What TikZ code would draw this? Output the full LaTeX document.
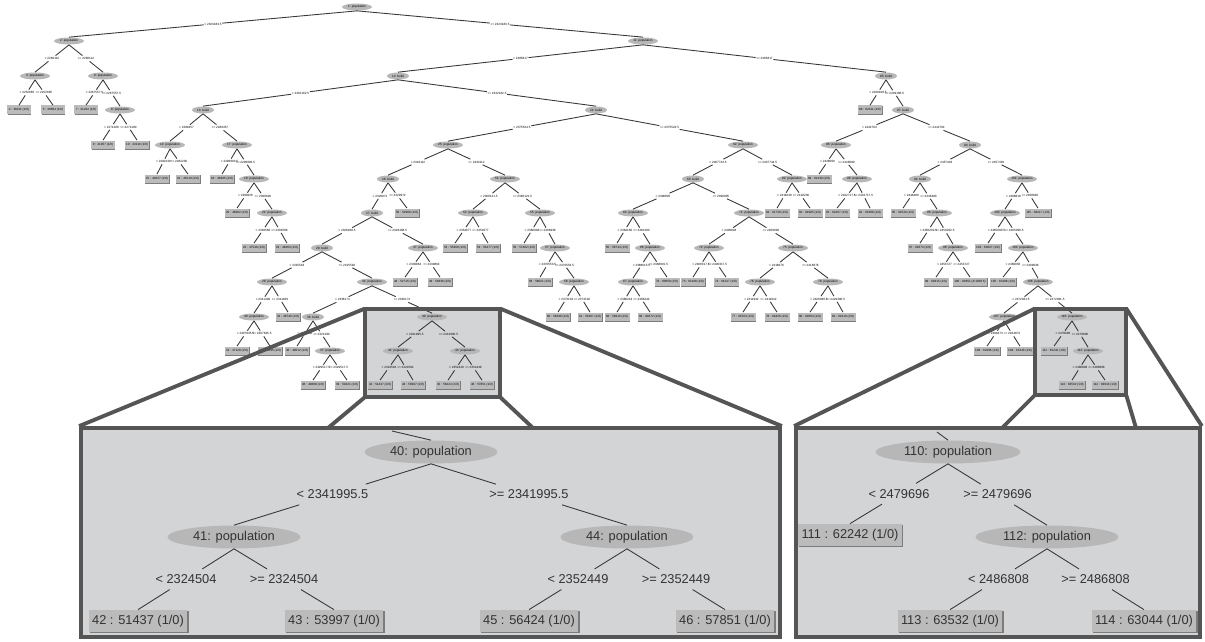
\documentclass[tikz,border=0pt]{standalone}
\usepackage{fontspec}
\setmainfont{Liberation Sans}
\usetikzlibrary{shapes.geometric,shadows}

\definecolor{nodegray}{HTML}{B7B7B7}
\definecolor{leafgray}{HTML}{BBBBBB}
\definecolor{shadowgray}{HTML}{7C7C7C}
\definecolor{boxgray}{HTML}{D3D4D6}
\definecolor{framegray}{HTML}{555555}
\definecolor{linegray}{HTML}{383838}
\definecolor{textgray}{HTML}{333333}

\newcommand{\treefont}{\fontsize{1.75}{2.1}\selectfont}
\newcommand{\insetfont}{\fontsize{7.3}{8.8}\selectfont}

% one branch: straight line parent -> child, broken by its condition
\newcommand{\bough}[4][cond]{%
  \path (#2.south) -- node[#1] (#2#3) {#4} (#3.north);
  \draw[branch] (#2.south) -- (#2#3) (#2#3) -- (#3.north);}
% both branches of a split
\newcommand{\branchpair}[5][cond]{%
  \bough[#1]{#2}{#3}{< #5}%
  \bough[#1]{#2}{#4}{>= #5}}

\tikzset{
  attr/.style={ellipse, fill=nodegray, inner sep=0pt, minimum width=0.6cm,
    minimum height=0.14cm, font=\treefont},
  attrshort/.style={attr, minimum width=0.44cm},
  leafbox/.style={rectangle, fill=leafgray, inner xsep=0.03cm, inner ysep=0pt,
    minimum height=0.18cm, font=\treefont,
    drop shadow={shadow xshift=0.35pt, shadow yshift=-0.35pt, fill=shadowgray, opacity=1}},
  cond/.style={inner xsep=0.2pt, inner ysep=0pt, minimum height=0.1cm, font=\treefont},
  branch/.style={draw=linegray, line width=0.5pt},
  bigattr/.style={ellipse, fill=nodegray, inner sep=0pt, minimum width=2.66cm,
    minimum height=0.46cm, font=\insetfont, text=textgray},
  bigleaf/.style={rectangle, fill=leafgray, inner xsep=2pt, inner ysep=0pt,
    minimum height=0.44cm, font=\insetfont, text=textgray,
    drop shadow={shadow xshift=0.8pt, shadow yshift=-0.8pt, fill=shadowgray, opacity=1}},
  bigcond/.style={inner xsep=0.5pt, inner ysep=0pt, minimum height=0.4cm,
    font=\insetfont, text=textgray},
  zoomfill/.style={fill=boxgray, inner sep=0pt},
  zoomframe/.style={draw=framegray, line width=2.2pt},
  insetbox/.style={fill=boxgray, draw=framegray, line width=2.2pt, inner sep=0pt},
  funnel/.style={draw=framegray, line width=2.2pt}
}

\begin{document}
\begin{tikzpicture}[x=0.02cm, y=-0.02cm]
\useasboundingbox (0,0) rectangle (1205,642);

% --- zoom windows (fill now, frame later) ---
\node[zoomfill, minimum width=2.7cm, minimum height=1.76cm] (zoomL) at (432.5,353) {};
\node[zoomfill, minimum width=1.82cm, minimum height=1.72cm] (zoomR) at (1080.5,352) {};

% --- full tree: depth 0-2 ---
\node[attr] (n1) at (357,7) {1: population};
\node[attr] (n2) at (69,41) {2: population};
\node[attr] (n11) at (643,41) {11: population};
\node[attr] (n3) at (35,76) {3: population};
\node[attr] (n6) at (103,76) {6: population};
\node[attrshort] (n12) at (398,76) {12: build};
\node[attrshort] (n85) at (886,76) {85: build};

% depth 3
\node[leafbox] (n4) at (19,110) {4 : 38211 (1/0)};
\node[leafbox] (n5) at (53,110) {5 : 39804 (1/0)};
\node[leafbox] (n7) at (86,110) {7 : 41262 (1/0)};
\node[attr] (n8) at (120,110) {8: population};
\node[attrshort] (n13) at (203,110) {13: build};
\node[attrshort] (n24) at (596,110) {24: build};
\node[leafbox] (n86) at (870,110) {86 : 62411 (1/0)};
\node[attrshort] (n87) at (903,110) {87: build};

% depth 4
\node[leafbox] (n9) at (103,145) {9 : 41957 (1/0)};
\node[leafbox] (n10) at (137,145) {10 : 43110 (1/0)};
\node[attr] (n14) at (170,145) {14: population};
\node[attr] (n17) at (237,145) {17: population};
\node[attr] (n25) at (448,145) {25: population};
\node[attr] (n62) at (743,145) {62: population};
\node[attr] (n88) at (836,145) {88: population};
\node[attrshort] (n93) at (970,145) {93: build};

% depth 5
\node[leafbox] (n15) at (157,179) {15 : 44027 (1/0)};
\node[leafbox] (n16) at (188,179) {16 : 45219 (1/0)};
\node[leafbox] (n18) at (222,179) {18 : 46385 (1/0)};
\node[attr] (n19) at (254,179) {19: population};
\node[attrshort] (n26) at (388,179) {26: build};
\node[attr] (n51) at (505,179) {51: population};
\node[attrshort] (n63) at (693,179) {63: build};
\node[attr] (n82) at (792,179) {82: population};
\node[leafbox] (n89) at (819,179) {89 : 62130 (1/0)};
\node[attr] (n90) at (857,179) {90: population};
\node[attrshort] (n94) at (920,179) {94: build};
\node[attr] (n101) at (1022,179) {101: population};

% depth 6
\node[leafbox] (n20) at (237,213) {20 : 46902 (1/0)};
\node[attr] (n21) at (272,213) {21: population};
\node[attrshort] (n27) at (372,213) {27: build};
\node[leafbox] (n50) at (407,213) {50 : 52960 (1/0)};
\node[attr] (n52) at (473,213) {52: population};
\node[attr] (n55) at (540,213) {55: population};
\node[attr] (n64) at (633,213) {64: population};
\node[attr] (n71) at (749,213) {71: population};
\node[leafbox] (n83) at (777,213) {83 : 61730 (1/0)};
\node[leafbox] (n84) at (810,213) {84 : 61985 (1/0)};
\node[leafbox] (n91) at (837,213) {91 : 62207 (1/0)};
\node[leafbox] (n92) at (870,213) {92 : 62388 (1/0)};
\node[leafbox] (n95) at (903,213) {95 : 62540 (1/0)};
\node[attr] (n96) at (937,213) {96: population};
\node[attr] (n102) at (1005,213) {102: population};
\node[leafbox] (n115) at (1038,213) {115 : 63217 (1/0)};

% depth 7
\node[leafbox] (n22) at (254,248) {22 : 47548 (1/0)};
\node[leafbox] (n23) at (287,248) {23 : 48463 (1/0)};
\node[attrshort] (n28) at (322,248) {28: build};
\node[attr] (n47) at (423,248) {47: population};
\node[leafbox] (n53) at (455,248) {53 : 55309 (1/0)};
\node[leafbox] (n54) at (488,248) {54 : 56177 (1/0)};
\node[leafbox] (n56) at (524,248) {56 : 57402 (1/0)};
\node[attr] (n57) at (555,248) {57: population};
\node[leafbox] (n65) at (617,248) {65 : 59744 (1/0)};
\node[attr] (n66) at (650,248) {66: population};
\node[attr] (n72) at (709,248) {72: population};
\node[attr] (n75) at (793,248) {75: population};
\node[leafbox] (n97) at (920,248) {97 : 62673 (1/0)};
\node[attr] (n98) at (953,248) {98: population};
\node[leafbox] (n103) at (988,248) {103 : 63027 (1/0)};
\node[attr] (n104) at (1023,248) {104: population};

% depth 8
\node[attr] (n29) at (272,282) {29: population};
\node[attr] (n34) at (372,282) {34: population};
\node[leafbox] (n48) at (405,282) {48 : 52715 (1/0)};
\node[leafbox] (n49) at (440,282) {49 : 54836 (1/0)};
\node[leafbox] (n58) at (540,282) {58 : 58021 (1/0)};
\node[attr] (n59) at (574,282) {59: population};
\node[attr] (n67) at (633,282) {67: population};
\node[leafbox] (n70) at (667,282) {70 : 60659 (1/0)};
\node[leafbox] (n73) at (693,282) {73 : 61108 (1/0)};
\node[leafbox] (n74) at (726,282) {74 : 61247 (1/0)};
\node[attr] (n76) at (760,282) {76: population};
\node[attr] (n79) at (828,282) {79: population};
\node[leafbox] (n99) at (936,282) {99 : 62815 (1/0)};
\node[leafbox] (n100) at (970,282) {100 : 62951 (2/1368.5)};
\node[leafbox] (n105) at (1003,282) {105 : 63108 (1/0)};
\node[attr] (n106) at (1038,282) {106: population};

% depth 9
\node[attr] (n30) at (254,317) {30: population};
\node[leafbox] (n33) at (288,317) {33 : 48746 (1/0)};
\node[attrshort] (n35) at (313,317) {35: build};
\node[attr] (n40) at (432,317) {40: population};
\node[leafbox] (n60) at (558,317) {60 : 58390 (1/0)};
\node[leafbox] (n61) at (590,317) {61 : 59187 (1/0)};
\node[leafbox] (n68) at (617,317) {68 : 59910 (1/0)};
\node[leafbox] (n69) at (650,317) {69 : 60372 (1/0)};
\node[leafbox] (n77) at (743,317) {77 : 61503 (1/0)};
\node[leafbox] (n78) at (777,317) {78 : 61826 (1/0)};
\node[leafbox] (n80) at (810,317) {80 : 62064 (1/0)};
\node[leafbox] (n81) at (843,317) {81 : 62319 (1/0)};
\node[attr] (n107) at (1004,317) {107: population};
\node[attr] (n110) at (1072,317) {110: population};

% depth 10
\node[leafbox] (n31) at (237,351) {31 : 47120 (1/0)};
\node[leafbox] (n32) at (270,351) {32 : 48095 (1/0)};
\node[leafbox] (n36) at (297,351) {36 : 49012 (1/0)};
\node[attr] (n37) at (330,351) {37: population};
\node[attr] (n41) at (398,351) {41: population};
\node[attr] (n44) at (465,351) {44: population};
\node[leafbox] (n108) at (987,351) {108 : 62996 (1/0)};
\node[leafbox] (n109) at (1020,351) {109 : 63140 (1/0)};
\node[leafbox] (n111) at (1054,351) {111 : 62242 (1/0)};
\node[attr] (n112) at (1088,351) {112: population};

% depth 11
\node[leafbox] (n38) at (313,385) {38 : 49688 (1/0)};
\node[leafbox] (n39) at (347,385) {39 : 50421 (1/0)};
\node[leafbox] (n42) at (380,385) {42 : 51437 (1/0)};
\node[leafbox] (n43) at (413,385) {43 : 53997 (1/0)};
\node[leafbox] (n45) at (448,385) {45 : 56424 (1/0)};
\node[leafbox] (n46) at (482,385) {46 : 57851 (1/0)};
\node[leafbox] (n113) at (1072,385) {113 : 63532 (1/0)};
\node[leafbox] (n114) at (1105,385) {114 : 63044 (1/0)};

% --- branches of the full tree ---
\branchpair{n1}{n2}{n11}{2323183.5}
\branchpair{n2}{n3}{n6}{2260112}
\branchpair{n3}{n4}{n5}{2252665}
\branchpair{n6}{n7}{n8}{2267557.5}
\branchpair{n8}{n9}{n10}{2271280}
\branchpair{n11}{n12}{n85}{2385817}
\branchpair{n12}{n13}{n24}{2332162.5}
\branchpair{n13}{n14}{n17}{2289457}
\branchpair{n14}{n15}{n16}{2282230}
\branchpair{n17}{n18}{n19}{2296903.5}
\branchpair{n19}{n20}{n21}{2300626}
\branchpair{n21}{n22}{n23}{2304568}
\branchpair{n24}{n25}{n62}{2375524.5}
\branchpair{n25}{n26}{n51}{2343112}
\branchpair{n26}{n27}{n50}{2329972}
\branchpair{n27}{n28}{n47}{2326468.5}
\branchpair{n28}{n29}{n34}{2315518}
\branchpair{n29}{n30}{n33}{2311409}
\branchpair{n30}{n31}{n32}{2307845.5}
\branchpair{n34}{n35}{n40}{2336174}
\branchpair{n35}{n36}{n37}{2321290}
\branchpair{n37}{n38}{n39}{2329517.5}
\branchpair{n40}{n41}{n44}{2341995.5}
\branchpair{n41}{n42}{n43}{2324504}
\branchpair{n44}{n45}{n46}{2352449}
\branchpair{n47}{n48}{n49}{2339864}
\branchpair{n51}{n52}{n55}{2360121.5}
\branchpair{n52}{n53}{n54}{2354077}
\branchpair{n55}{n56}{n57}{2366938}
\branchpair{n57}{n58}{n59}{2370553.5}
\branchpair{n59}{n60}{n61}{2373102}
\branchpair{n62}{n63}{n82}{2407744.5}
\branchpair{n63}{n64}{n71}{2396805}
\branchpair{n64}{n65}{n66}{2384160}
\branchpair{n66}{n67}{n70}{2388015.5}
\branchpair{n67}{n68}{n69}{2386244}
\branchpair{n71}{n72}{n75}{2409028}
\branchpair{n72}{n73}{n74}{2400317.5}
\branchpair{n75}{n76}{n79}{2418676}
\branchpair{n76}{n77}{n78}{2411942}
\branchpair{n79}{n80}{n81}{2426380.5}
\branchpair{n82}{n83}{n84}{2418230}
\branchpair{n85}{n86}{n87}{2439108.5}
\branchpair{n87}{n88}{n93}{2442764}
\branchpair{n88}{n89}{n90}{2428090}
\branchpair{n90}{n91}{n92}{2432717.5}
\branchpair{n93}{n94}{n101}{2457403}
\branchpair{n94}{n95}{n96}{2446480}
\branchpair{n96}{n97}{n98}{2450202.5}
\branchpair{n98}{n99}{n100}{2453727}
\branchpair{n101}{n102}{n115}{2468818}
\branchpair{n102}{n103}{n104}{2465090.5}
\branchpair{n104}{n105}{n106}{2469036}
\branchpair{n106}{n107}{n110}{2472381.5}
\branchpair{n107}{n108}{n109}{2464874}
\branchpair{n110}{n111}{n112}{2479696}
\branchpair{n112}{n113}{n114}{2486808}

% --- zoom frames, insets and funnels ---
\draw[zoomframe] (zoomL.south west) rectangle (zoomL.north east);
\draw[zoomframe] (zoomR.south west) rectangle (zoomR.north east);
\node[insetbox, minimum width=13.98cm, minimum height=4.18cm] (insetL) at (430.5,532.5) {};
\node[insetbox, minimum width=8.08cm, minimum height=4.18cm] (insetR) at (998,532.5) {};
\coordinate (funL1) at (328,428);
\coordinate (funL2) at (533,428);
\coordinate (funR1) at (1002,428);
\coordinate (funR2) at (1136,428);
\draw[funnel] (zoomL.north west) -- (insetL.north west);
\draw[funnel] (zoomL.north east) -- (insetL.north east);
\draw[funnel] (zoomL.south west) -- (funL1);
\draw[funnel] (zoomL.south east) -- (funL2);
\draw[funnel] (zoomR.north west) -- (insetR.north west);
\draw[funnel] (zoomR.north east) -- (insetR.north east);
\draw[funnel] (zoomR.south west) -- (funR1);
\draw[funnel] (zoomR.south east) -- (funR2);

% --- left inset: subtree of node 40 ---
\node[bigattr] (b40) at (431,452) {40: population};
\node[bigattr] (b41) at (234,537) {41: population};
\node[bigattr] (b44) at (627,537) {44: population};
\node[bigleaf] (b42) at (138,621) {42 : 51437 (1/0)};
\node[bigleaf] (b43) at (334,621) {43 : 53997 (1/0)};
\node[bigleaf] (b45) at (529,621) {45 : 56424 (1/0)};
\node[bigleaf] (b46) at (725,621) {46 : 57851 (1/0)};
\coordinate (in40) at (392,431);
\draw[branch] (in40) -- (b40.north);
\branchpair[bigcond]{b40}{b41}{b44}{2341995.5}
\branchpair[bigcond]{b41}{b42}{b43}{2324504}
\branchpair[bigcond]{b44}{b45}{b46}{2352449}

% --- right inset: subtree of node 110 ---
\node[bigattr, minimum width=2.9cm] (b110) at (948,452) {110: population};
\node[bigleaf] (b111) at (850,535) {111 : 62242 (1/0)};
\node[bigattr, minimum width=2.86cm] (b112) at (1047,537) {112: population};
\node[bigleaf] (b113) at (950,621) {113 : 63532 (1/0)};
\node[bigleaf] (b114) at (1144,621) {114 : 63044 (1/0)};
\coordinate (in110) at (937,432);
\draw[branch] (in110) -- (b110.north);
\branchpair[bigcond]{b110}{b111}{b112}{2479696}
\branchpair[bigcond]{b112}{b113}{b114}{2486808}

\end{tikzpicture}
\end{document}
